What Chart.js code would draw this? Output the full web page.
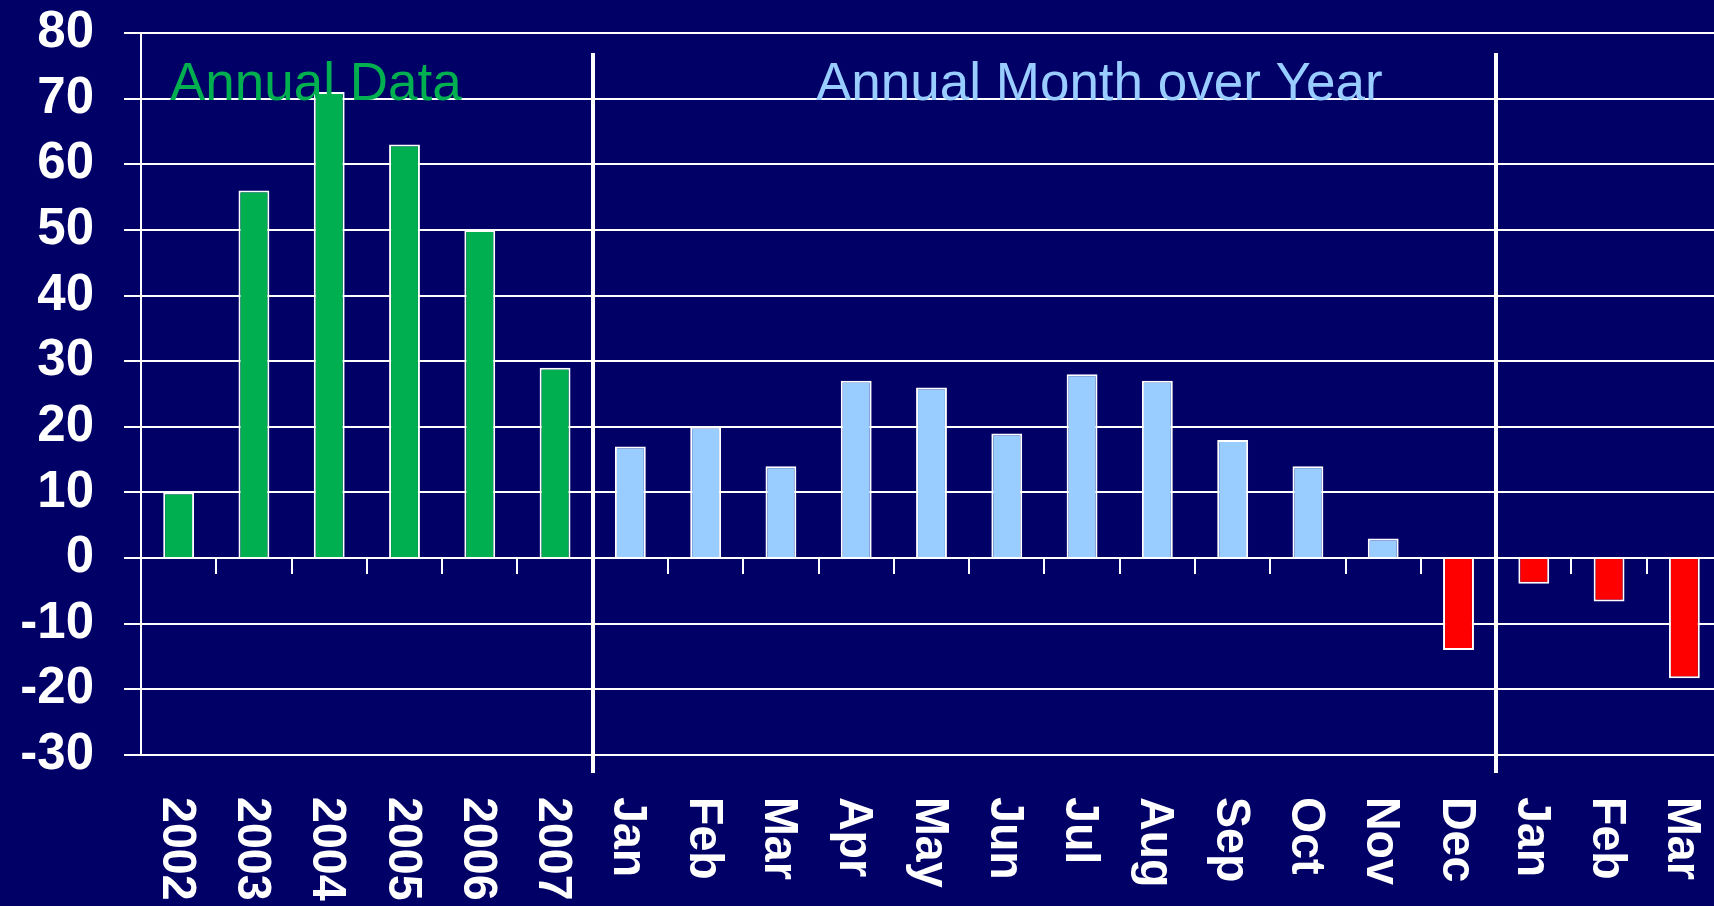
<!DOCTYPE html>
<html>
<head>
<meta charset="utf-8">
<script src="https://cdn.jsdelivr.net/npm/chart.js@4/dist/chart.umd.min.js"></script>
<style>
  html, body { margin: 0; padding: 0; background: #000066; overflow: hidden; }
  #wrap { width: 1722px; height: 906px; }
</style>
</head>
<body>
<div id="wrap"><canvas id="c" width="1722" height="906"></canvas></div>
<script>
// ---- data ----
const annualCategories = ['2002', '2003', '2004', '2005', '2006', '2007'];
const months2007 = ['Jan', 'Feb', 'Mar', 'Apr', 'May', 'Jun', 'Jul', 'Aug', 'Sep', 'Oct', 'Nov', 'Dec'];
const months2008 = ['Jan', 'Feb', 'Mar'];
const annualValues = [10, 56, 71, 63, 50, 29];
const monthValues2007 = [17, 20, 14, 27, 26, 19, 28, 27, 18, 14, 3, -14];
const monthValues2008 = [-3.9, -6.6, -18.3];
const yTickMin = -30;
const yTickMax = 80;
const yTickStep = 10;
const sectionTitles = ['Annual Data', 'Annual Month over Year'];

// ---- derived ----
const categories = annualCategories.concat(months2007, months2008);
const values = annualValues.concat(monthValues2007, monthValues2008);
const nAnnual = annualCategories.length;
const nMonths2007 = months2007.length;

const GREEN = '#00B050';
const LIGHTBLUE = '#99CCFF';
const RED = '#FF0000';
const FONT = "'Liberation Sans', Arial, sans-serif";

const barColors = values.map((v, i) => i < nAnnual ? GREEN : (v < 0 ? RED : LIGHTBLUE));

const overlayPlugin = {
  id: 'overlay',
  afterDraw(chart) {
    const ctx = chart.ctx;
    const xs = chart.scales.x;
    const ys = chart.scales.y;
    const area = chart.chartArea;
    ctx.save();
    // section separators
    ctx.strokeStyle = '#FFFFFF';
    ctx.lineWidth = 4;
    [nAnnual - 0.5, nAnnual + nMonths2007 - 0.5].forEach(b => {
      const x = Math.round(xs.getPixelForValue(b));
      ctx.beginPath();
      ctx.moveTo(x, area.top + 20);
      ctx.lineTo(x, area.bottom + 18);
      ctx.stroke();
    });
    // rotated category labels (reading top-to-bottom)
    ctx.fillStyle = '#FFFFFF';
    ctx.font = 'bold 49px ' + FONT;
    ctx.textAlign = 'left';
    ctx.textBaseline = 'alphabetic';
    categories.forEach((lab, i) => {
      const x = xs.getPixelForValue(i);
      ctx.save();
      ctx.translate(x - 16, area.bottom + 42);
      ctx.rotate(Math.PI / 2);
      ctx.scale(0.95, 1);
      ctx.fillText(lab, 0, 0);
      ctx.restore();
    });
    // section titles
    ctx.font = '53px ' + FONT;
    ctx.textBaseline = 'alphabetic';
    const yBase = ys.getPixelForValue(70) + 1;
    ctx.fillStyle = GREEN;
    ctx.fillText(sectionTitles[0], area.left + 29, yBase);
    ctx.fillStyle = LIGHTBLUE;
    ctx.fillText(sectionTitles[1], area.left + 675, yBase);
    ctx.restore();
  }
};

new Chart(document.getElementById('c'), {
  type: 'bar',
  data: {
    labels: categories,
    datasets: [{
      data: values,
      backgroundColor: barColors,
      borderColor: '#FFFFFF',
      borderWidth: 2,
      barPercentage: 0.41,
      categoryPercentage: 1.0
    }]
  },
  options: {
    responsive: false,
    animation: false,
    layout: { padding: { left: 20, top: 33, right: 0, bottom: 151 } },
    plugins: { legend: { display: false }, tooltip: { enabled: false } },
    scales: {
      x: {
        position: { y: 0 },
        grid: {
          offset: true,
          drawOnChartArea: false,
          drawTicks: true,
          tickLength: 16,
          color: '#FFFFFF',
          lineWidth: 2
        },
        border: { display: false },
        ticks: { display: false }
      },
      y: {
        min: yTickMin,
        max: yTickMax,
        afterFit(scale) {
          scale.width = 121;
          scale.paddingTop = 0;
          scale.paddingBottom = 0;
        },
        ticks: {
          stepSize: yTickStep,
          color: '#FFFFFF',
          padding: 30,
          font: { family: FONT, size: 51, weight: 'bold' }
        },
        grid: {
          color: '#FFFFFF',
          lineWidth: 2,
          drawTicks: true,
          tickLength: 17
        },
        border: { display: true, color: '#FFFFFF', width: 2 }
      }
    }
  },
  plugins: [overlayPlugin]
});
</script>
</body>
</html>
